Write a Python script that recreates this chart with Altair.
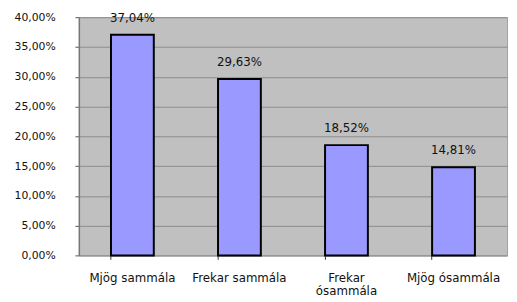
import altair as alt
import pandas as pd

categories = ["Mjög sammála", "Frekar sammála", "Frekar ósammála", "Mjög ósammála"]
values = [0.3704, 0.2963, 0.1852, 0.1481]
y_ticks = [0, 0.05, 0.10, 0.15, 0.20, 0.25, 0.30, 0.35, 0.40]

df = pd.DataFrame({"cat": categories, "val": values})
df["lab"] = [("%.2f%%" % (v * 100)).replace(".", ",") for v in values]

font = "DejaVu Sans"

x = alt.X(
    "cat:N",
    sort=categories,
    scale=alt.Scale(paddingInner=0.6, paddingOuter=0.3),
    axis=alt.Axis(
        title=None,
        labelAngle=0,
        labelFont=font,
        labelFontSize=12,
        labelColor="#111111",
        labelPadding=14,
        labelBaseline="top",
        labelLineHeight=13,
        labelExpr="datum.label == 'Frekar ósammála' ? ['Frekar', 'ósammála'] : datum.label",
        labelLimit=0,
        bandPosition=0,
        ticks=True,
        tickSize=4,
        tickColor="#333333",
        domainColor="#999999",
        grid=False,
    ),
)

y = alt.Y(
    "val:Q",
    scale=alt.Scale(domain=[0, 0.40], nice=False),
    axis=alt.Axis(
        title=None,
        values=y_ticks,
        labelOverlap=False,
        labelExpr="replace(format(datum.value, '.2%'), '.', ',')",
        labelFont=font,
        labelFontSize=11,
        labelColor="#111111",
        labelPadding=20,
        tickSize=4,
        tickColor="#555555",
        domainColor="#777777",
        domainWidth=1.5,
        gridColor="#8c8c8c",
        gridWidth=1,
    ),
)

base = alt.Chart(df).encode(x=x, y=y)

bars = base.mark_bar(color="#9999ff", stroke="#000000", strokeWidth=2)

labels = base.mark_text(
    font=font, fontSize=12, dy=-17, baseline="middle", color="#111111"
).encode(text="lab:N")

chart = alt.layer(bars, labels).properties(
    width=435,
    height=242,
    autosize=alt.AutoSizeParams(type="none"),
    padding={"left": 72, "top": 7, "right": 2, "bottom": 45},
    background="#ffffff",
).configure_view(
    fill="#c0c0c0", stroke="#a0a0a0", strokeWidth=1
)

chart.save("out.html", embed_options={"renderer": "svg", "actions": False})
